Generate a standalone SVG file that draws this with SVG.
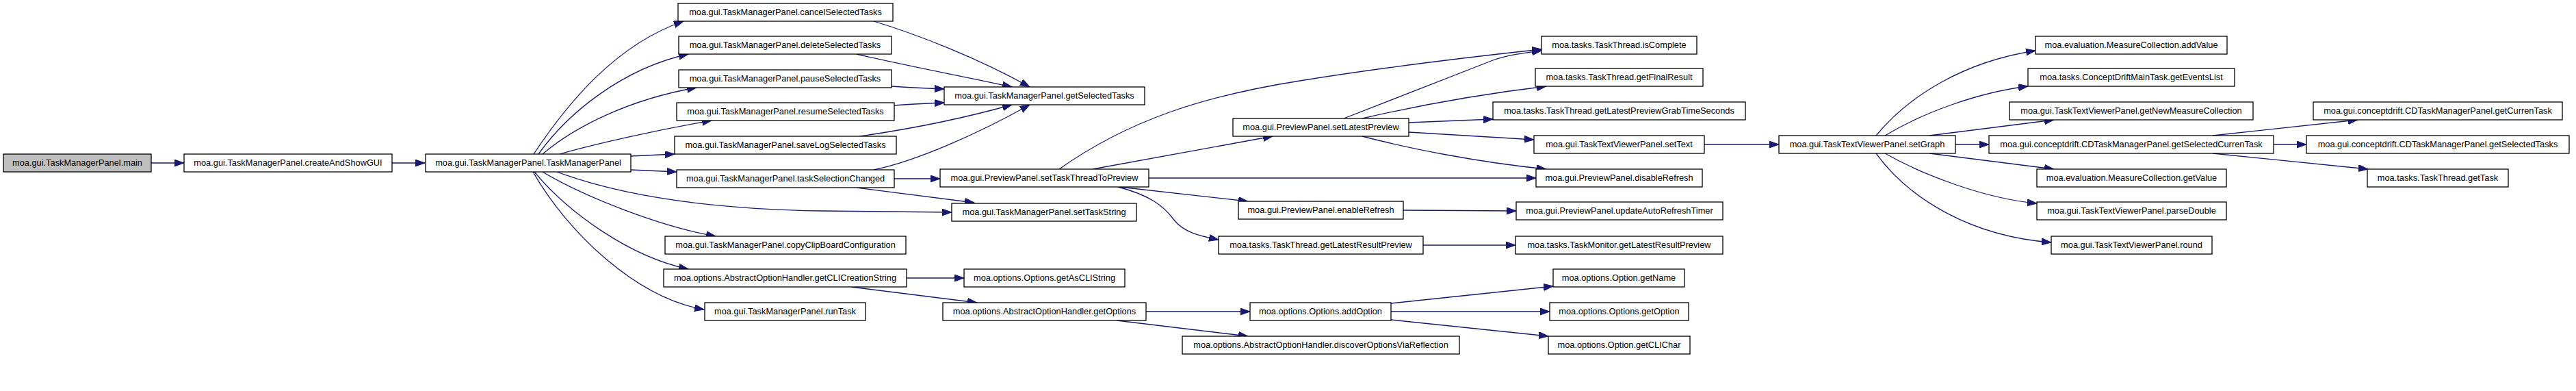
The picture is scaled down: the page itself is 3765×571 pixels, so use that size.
<svg xmlns="http://www.w3.org/2000/svg" width="3765" height="571" viewBox="0 0 3765 571">
<style>
.n rect{fill:#fff;stroke:#000;stroke-width:1.3}
.n.root rect{fill:#bfbfbf}
.n text{font-family:"Liberation Sans",Arial,Helvetica,sans-serif;font-size:12.8px;text-anchor:middle;fill:#000}
.e path{fill:none;stroke:#191970;stroke-width:1.3;marker-end:url(#a)}
</style>
<defs>
<marker id="a" markerUnits="userSpaceOnUse" markerWidth="15" markerHeight="11" refX="14" refY="5" orient="auto">
<path d="M0,0 L14,5 L0,10 z" fill="#191970" stroke="#191970" stroke-width="1"/>
</marker>
</defs>
<rect width="3765" height="571" fill="#fff"/>
<g id="edges" class="e">
<path d="M221,238 L269,238"/>
<path d="M573,238 L621,238"/>
<path d="M780,225 C830,150 900,65 999,31"/>
<path d="M787,225 C830,165 910,100 1006,79"/>
<path d="M793,225 C840,185 920,145 1018,128"/>
<path d="M818,225 C870,210 960,190 1040,176"/>
<path d="M922,228 L986,225"/>
<path d="M922,248 L989,251"/>
<path d="M814,251 C900,283 1020,305 1200,308 C1290,309 1350,310 1391,310"/>
<path d="M793,251 C850,285 960,330 1046,345"/>
<path d="M781,251 C830,310 920,375 1006,393"/>
<path d="M779,251 C830,340 930,435 1029,452"/>
<path d="M1277,31 C1340,50 1430,85 1505,127"/>
<path d="M1252,79 C1320,95 1400,110 1479,127"/>
<path d="M1303,126 C1330,128 1355,129 1380,130"/>
<path d="M1307,154 C1330,152 1355,151 1380,150"/>
<path d="M1256,199 C1320,190 1400,175 1479,153"/>
<path d="M1277,248 C1340,235 1430,195 1505,153"/>
<path d="M1307,261 L1374,261"/>
<path d="M1252,274 L1424,296"/>
<path d="M1548,247 C1650,175 1760,140 1900,118 C2030,97 2160,82 2253,72"/>
<path d="M1597,247 L1860,199"/>
<path d="M1679,260 L2245,260"/>
<path d="M1636,273 L1824,294"/>
<path d="M1634,273 C1680,285 1700,300 1715,320 C1730,340 1755,345 1781,350"/>
<path d="M1964,173 L2182,88 C2205,80 2230,77 2253,74"/>
<path d="M1991,173 C2060,157 2160,138 2260,126"/>
<path d="M2059,179 L2182,174"/>
<path d="M2059,193 L2242,204"/>
<path d="M1991,199 C2060,217 2160,237 2260,247"/>
<path d="M2051,307 L2216,308"/>
<path d="M2080,358 L2215,358"/>
<path d="M1325,406 L1409,406"/>
<path d="M1244,419 L1428,442"/>
<path d="M1675,455 L1827,455"/>
<path d="M1632,468 L1824,491"/>
<path d="M2033,443 L2270,418"/>
<path d="M2033,455 L2265,455"/>
<path d="M2033,467 L2263,491"/>
<path d="M2491,211 L2600,211"/>
<path d="M2742,198 C2790,140 2870,90 2975,74"/>
<path d="M2755,198 C2810,165 2890,135 2964,126"/>
<path d="M2820,198 L3002,175"/>
<path d="M2858,211 L2907,211"/>
<path d="M2820,224 L3002,247"/>
<path d="M2755,224 C2810,255 2900,290 2977,297"/>
<path d="M2742,224 C2790,290 2880,345 2998,354"/>
<path d="M3234,198 L3446,175"/>
<path d="M3323,211 L3371,211"/>
<path d="M3234,224 L3461,247"/>
</g>
<g id="n_main" class="n root"><rect x="5" y="225" width="216" height="26"/><text x="113" y="241.5">moa.gui.TaskManagerPanel.main</text></g>
<g id="n_createAndShowGUI" class="n"><rect x="269" y="225" width="304" height="26"/><text x="421" y="241.5">moa.gui.TaskManagerPanel.createAndShowGUI</text></g>
<g id="n_TaskManagerPanel" class="n"><rect x="622" y="225" width="300" height="26"/><text x="772" y="241.5">moa.gui.TaskManagerPanel.TaskManagerPanel</text></g>
<g id="n_cancel" class="n"><rect x="991" y="5" width="314" height="26"/><text x="1148" y="21.5">moa.gui.TaskManagerPanel.cancelSelectedTasks</text></g>
<g id="n_delete" class="n"><rect x="992" y="53" width="311" height="26"/><text x="1147.5" y="69.5">moa.gui.TaskManagerPanel.deleteSelectedTasks</text></g>
<g id="n_pause" class="n"><rect x="992" y="102" width="311" height="26"/><text x="1147.5" y="118.5">moa.gui.TaskManagerPanel.pauseSelectedTasks</text></g>
<g id="n_resume" class="n"><rect x="989" y="150" width="318" height="26"/><text x="1148" y="166.5">moa.gui.TaskManagerPanel.resumeSelectedTasks</text></g>
<g id="n_saveLog" class="n"><rect x="986" y="199" width="324" height="26"/><text x="1148" y="215.5">moa.gui.TaskManagerPanel.saveLogSelectedTasks</text></g>
<g id="n_taskSelectionChanged" class="n"><rect x="989" y="248" width="318" height="26"/><text x="1148" y="264.5">moa.gui.TaskManagerPanel.taskSelectionChanged</text></g>
<g id="n_copyClipBoard" class="n"><rect x="972" y="345" width="352" height="26"/><text x="1148" y="361.5">moa.gui.TaskManagerPanel.copyClipBoardConfiguration</text></g>
<g id="n_getCLICreationString" class="n"><rect x="970" y="393" width="355" height="26"/><text x="1147.5" y="409.5">moa.options.AbstractOptionHandler.getCLICreationString</text></g>
<g id="n_runTask" class="n"><rect x="1030" y="442" width="235" height="26"/><text x="1147.5" y="458.5">moa.gui.TaskManagerPanel.runTask</text></g>
<g id="n_getSelectedTasks" class="n"><rect x="1380" y="127" width="293" height="26"/><text x="1526.5" y="143.5">moa.gui.TaskManagerPanel.getSelectedTasks</text></g>
<g id="n_setTaskThreadToPreview" class="n"><rect x="1374" y="247" width="305" height="26"/><text x="1526.5" y="263.5">moa.gui.PreviewPanel.setTaskThreadToPreview</text></g>
<g id="n_setTaskString" class="n"><rect x="1391" y="297" width="270" height="26"/><text x="1526" y="313.5">moa.gui.TaskManagerPanel.setTaskString</text></g>
<g id="n_getAsCLIString" class="n"><rect x="1409" y="393" width="235" height="26"/><text x="1526.5" y="409.5">moa.options.Options.getAsCLIString</text></g>
<g id="n_getOptions" class="n"><rect x="1378" y="442" width="297" height="26"/><text x="1526.5" y="458.5">moa.options.AbstractOptionHandler.getOptions</text></g>
<g id="n_setLatestPreview" class="n"><rect x="1802" y="173" width="257" height="26"/><text x="1930.5" y="189.5">moa.gui.PreviewPanel.setLatestPreview</text></g>
<g id="n_enableRefresh" class="n"><rect x="1810" y="294" width="241" height="26"/><text x="1930.5" y="310.5">moa.gui.PreviewPanel.enableRefresh</text></g>
<g id="n_TT_getLatestResultPreview" class="n"><rect x="1781" y="345" width="299" height="26"/><text x="1930.5" y="361.5">moa.tasks.TaskThread.getLatestResultPreview</text></g>
<g id="n_addOption" class="n"><rect x="1827" y="442" width="206" height="26"/><text x="1930" y="458.5">moa.options.Options.addOption</text></g>
<g id="n_discover" class="n"><rect x="1728" y="491" width="405" height="26"/><text x="1930.5" y="507.5">moa.options.AbstractOptionHandler.discoverOptionsViaReflection</text></g>
<g id="n_isComplete" class="n"><rect x="2253" y="53" width="227" height="26"/><text x="2366.5" y="69.5">moa.tasks.TaskThread.isComplete</text></g>
<g id="n_getFinalResult" class="n"><rect x="2244" y="100" width="245" height="26"/><text x="2366.5" y="116.5">moa.tasks.TaskThread.getFinalResult</text></g>
<g id="n_grabTime" class="n"><rect x="2182" y="149" width="369" height="26"/><text x="2366.5" y="165.5">moa.tasks.TaskThread.getLatestPreviewGrabTimeSeconds</text></g>
<g id="n_setText" class="n"><rect x="2242" y="198" width="249" height="26"/><text x="2366.5" y="214.5">moa.gui.TaskTextViewerPanel.setText</text></g>
<g id="n_disableRefresh" class="n"><rect x="2245" y="247" width="243" height="26"/><text x="2366.5" y="263.5">moa.gui.PreviewPanel.disableRefresh</text></g>
<g id="n_updateAutoRefreshTimer" class="n"><rect x="2216" y="295" width="302" height="26"/><text x="2367" y="311.5">moa.gui.PreviewPanel.updateAutoRefreshTimer</text></g>
<g id="n_TM_getLatestResultPreview" class="n"><rect x="2215" y="345" width="303" height="26"/><text x="2366.5" y="361.5">moa.tasks.TaskMonitor.getLatestResultPreview</text></g>
<g id="n_getName" class="n"><rect x="2270" y="393" width="192" height="26"/><text x="2366" y="409.5">moa.options.Option.getName</text></g>
<g id="n_getOption" class="n"><rect x="2265" y="442" width="203" height="26"/><text x="2366.5" y="458.5">moa.options.Options.getOption</text></g>
<g id="n_getCLIChar" class="n"><rect x="2263" y="491" width="207" height="26"/><text x="2366.5" y="507.5">moa.options.Option.getCLIChar</text></g>
<g id="n_setGraph" class="n"><rect x="2600" y="198" width="258" height="26"/><text x="2729" y="214.5">moa.gui.TaskTextViewerPanel.setGraph</text></g>
<g id="n_addValue" class="n"><rect x="2975" y="53" width="280" height="26"/><text x="3115" y="69.5">moa.evaluation.MeasureCollection.addValue</text></g>
<g id="n_getEventsList" class="n"><rect x="2964" y="100" width="302" height="26"/><text x="3115" y="116.5">moa.tasks.ConceptDriftMainTask.getEventsList</text></g>
<g id="n_getNewMeasureCollection" class="n"><rect x="2937" y="149" width="356" height="26"/><text x="3115" y="165.5">moa.gui.TaskTextViewerPanel.getNewMeasureCollection</text></g>
<g id="n_getSelectedCurrenTask" class="n"><rect x="2907" y="198" width="416" height="26"/><text x="3115" y="214.5">moa.gui.conceptdrift.CDTaskManagerPanel.getSelectedCurrenTask</text></g>
<g id="n_getValue" class="n"><rect x="2977" y="247" width="277" height="26"/><text x="3115.5" y="263.5">moa.evaluation.MeasureCollection.getValue</text></g>
<g id="n_parseDouble" class="n"><rect x="2977" y="295" width="277" height="26"/><text x="3115.5" y="311.5">moa.gui.TaskTextViewerPanel.parseDouble</text></g>
<g id="n_round" class="n"><rect x="2998" y="345" width="235" height="26"/><text x="3115.5" y="361.5">moa.gui.TaskTextViewerPanel.round</text></g>
<g id="n_getCurrenTask" class="n"><rect x="3381" y="149" width="364" height="26"/><text x="3563" y="165.5">moa.gui.conceptdrift.CDTaskManagerPanel.getCurrenTask</text></g>
<g id="n_CD_getSelectedTasks" class="n"><rect x="3371" y="198" width="384" height="26"/><text x="3563" y="214.5">moa.gui.conceptdrift.CDTaskManagerPanel.getSelectedTasks</text></g>
<g id="n_getTask" class="n"><rect x="3460" y="247" width="206" height="26"/><text x="3563" y="263.5">moa.tasks.TaskThread.getTask</text></g>
</svg>
